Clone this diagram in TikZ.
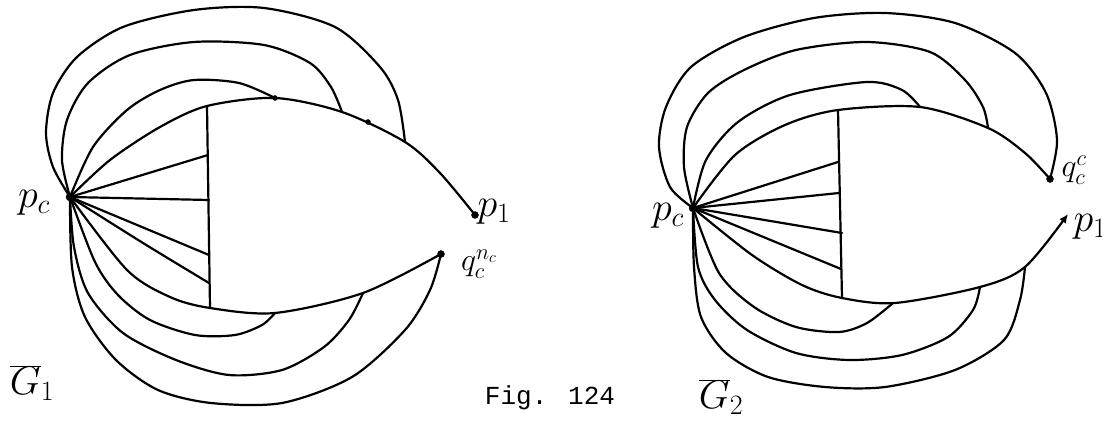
\RequirePackage{fix-cm}
\documentclass[tikz,border=0pt]{standalone}
\usepackage{fontspec}
\newfontfamily\figfont{Liberation Mono}
\usetikzlibrary{arrows.meta}
\tikzset{
  pen/.style={line width=2.2pt, line cap=round, line join=round},
  lbl/.style={font=\fontsize{40}{44}\selectfont, inner sep=0pt},
  smlbl/.style={font=\fontsize{32}{36}\selectfont, inner sep=0pt},
}
\begin{document}
\begin{tikzpicture}[x=1pt,y=-1pt]
    \useasboundingbox (0,0) rectangle (1102,427);

    % left graph
    \coordinate (pcL) at (70,197);
    \coordinate (topL) at (207,106);
    \coordinate (botL) at (210,308);
    \coordinate (pL) at (475,215);
    \coordinate (qL) at (441,254);

    \draw[pen] (topL) -- (botL);
    \draw[pen] (pcL) -- (208,155);
    \draw[pen] (pcL) -- (209,200);
    \draw[pen] (pcL) -- (209,255);
    \draw[pen] plot[smooth] coordinates {(pcL) (143,243) (209,283)};
    \draw[pen] plot[smooth] coordinates {(pcL) (110,160) (160,127) (topL) (275,98) (342,112) (405,142) (440,173) (pL)};
    \draw[pen] plot[smooth] coordinates {(pcL) (127,270) (170,297) (botL) (275,313) (363,293) (qL)};

    % arcs over the top
    \draw[pen] plot[smooth] coordinates {(pcL) (93,147) (127,110) (160,90) (194,80) (239,83) (275,98)};
    \draw[pen] plot[smooth] coordinates {(pcL) (62,160) (67,120) (88,83) (130,55) (194,42) (264,45) (310,63) (331,87) (342,112)};
    \draw[pen] plot[smooth] coordinates {(pcL) (53,167) (46,133) (53,93) (77,57) (123,27) (194,10) (264,8) (335,27) (380,67) (398,100) (405,142)};

    % arcs underneath
    \draw[pen] plot[smooth] coordinates {(pcL) (95,262) (118,295) (150,320) (195,335) (235,335) (262,325) (275,313)};
    \draw[pen] plot[smooth] coordinates {(pcL) (74,247) (88,293) (123,333) (176,360) (229,375) (282,370) (324,347) (349,320) (363,293)};
    \draw[pen] plot[smooth] coordinates {(pcL) (72,267) (85,317) (116,360) (158,390) (211,403) (282,403) (352,377) (405,330) (430,290) (qL)};

    \filldraw (pcL) circle (4);
    \filldraw (pL) circle (3.5);
    \filldraw (qL) circle (3.5);
    \filldraw (275,98) circle (2.5);
    \filldraw (368,122) circle (2.5);

    \node[lbl] (lpcL) at (34,203) {$p_c$};
    \node[lbl] (lpL) at (494,212) {$p_1$};
    \node[smlbl] (lqL) at (479,264) {$q_c^{n_c}$};
    \node[lbl] (lG1) at (32,383) {$\overline{G}_1$};

    \node[font=\figfont\fontsize{26}{30}\selectfont, inner sep=0pt] (fig) at (550,398) {Fig. 124};

    % right graph
    \coordinate (pcR) at (693,208);
    \coordinate (topR) at (838,110);
    \coordinate (botR) at (842,298);
    \coordinate (qR) at (1050,179);
    \coordinate (pR) at (1068,214);

    \draw[pen] (topR) -- (botR);
    \draw[pen] (pcR) -- (838,162);
    \draw[pen] (pcR) -- (839,193);
    \draw[pen] (pcR) -- (842,233);
    \draw[pen] (pcR) -- (841,269);
    \draw[pen] plot[smooth] coordinates {(pcR) (735,155) (785,125) (topR) (920,107) (988,128) (1025,153) (qR)};
    \draw[pen, -{Latex[length=9pt,width=8pt]}] plot[smooth] coordinates {(pcR) (752,255) (802,285) (botR) (895,303) (980,287) (1025,267) (pR)};

    % arcs over the top
    \draw[pen] plot[smooth] coordinates {(pcR) (706,160) (738,122) (790,95) (867,82) (902,90) (920,107)};
    \draw[pen] plot[smooth] coordinates {(pcR) (684,167) (687,127) (708,93) (744,70) (796,50) (867,42) (930,52) (965,80) (983,107) (988,128)};
    \draw[pen] plot[smooth] coordinates {(pcR) (670,187) (659,147) (666,107) (691,67) (744,37) (814,18) (885,13) (955,23) (1015,53) (1046,93) (1057,140) (qR)};

    % arcs underneath
    \draw[pen] plot[smooth] coordinates {(pcR) (719,273) (754,307) (796,327) (839,332) (867,323) (893,303)};
    \draw[pen] plot[smooth] coordinates {(pcR) (698,267) (715,300) (747,330) (796,353) (849,360) (902,355) (948,337) (973,310) (980,287)};
    \draw[pen] plot[smooth] coordinates {(pcR) (694,267) (701,317) (726,353) (768,377) (825,387) (885,387) (955,370) (1004,340) (1020,300) (1025,267)};

    \filldraw (pcR) circle (4);
    \filldraw (qR) circle (3.5);

    \node[lbl] (lpcR) at (668,216) {$p_c$};
    \node[smlbl] (lqR) at (1074,170) {$q_c^c$};
    \node[lbl] (lpR) at (1090,227) {$p_1$};
    \node[lbl] (lG2) at (721,397) {$\overline{G}_2$};
\end{tikzpicture}
\end{document}
